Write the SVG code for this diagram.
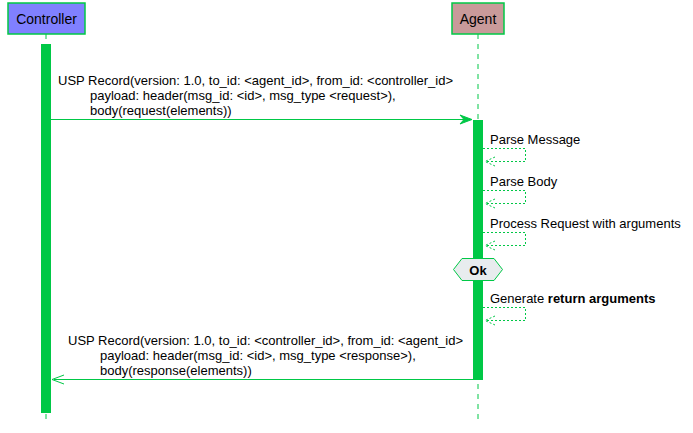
<svg xmlns="http://www.w3.org/2000/svg" width="693" height="433" viewBox="0 0 693 433">
<style>
text{font-family:"Liberation Sans",Arial,sans-serif;fill:#000}
.msg{font-size:13px}
.hdr{font-size:14px}
.life{stroke:#00C846;stroke-width:1;stroke-dasharray:5,5;fill:none}
.act{fill:#00C846;stroke:none}
.solid{stroke:#00C846;stroke-width:1;fill:none}
.dash{stroke:#00C846;stroke-width:1;stroke-dasharray:2,2;fill:none}
.head{fill:#00C846;stroke:#00C846;stroke-width:1}
</style>
<rect width="693" height="433" fill="#fff"/>
<g id="lifelines">
<line class="life" x1="46" y1="34" x2="46" y2="422"/>
<line class="life" x1="478" y1="34" x2="478" y2="422"/>
</g>
<g id="controller">
<rect x="8" y="3" width="77" height="31" fill="#8080FF" stroke="#00C846" stroke-width="1.5"/>
<text class="hdr" x="46.5" y="23.5" text-anchor="middle">Controller</text>
<rect class="act" x="41" y="44" width="10" height="369"/>
</g>
<g id="agent">
<rect x="452" y="3" width="52" height="31" fill="#C99A9A" stroke="#00C846" stroke-width="1.5"/>
<text class="hdr" x="478" y="23.5" text-anchor="middle">Agent</text>
<rect class="act" x="473" y="120" width="10" height="260"/>
</g>
<g id="ok">
<polygon points="453.5,269.5 462,258.5 494,258.5 502.5,269.5 494,280.5 462,280.5" fill="#E8ECEE" stroke="#00C846" stroke-width="1"/>
<text x="478" y="274.5" text-anchor="middle" font-size="13" font-weight="bold">Ok</text>
</g>
<g id="connectors">
<line class="solid" x1="51" y1="119.5" x2="470" y2="119.5"/>
<polygon class="head" points="472,119.5 460,115 464,119.5 460,124"/>
<text class="msg" x="58" y="85">USP Record(version: 1.0, to_id: &lt;agent_id&gt;, from_id: &lt;controller_id&gt;</text>
<text class="msg" x="90" y="100">payload: header(msg_id: &lt;id&gt;, msg_type &lt;request&gt;),</text>
<text class="msg" x="90" y="115">body(request(elements))</text>

<polyline class="dash" points="483,148.5 525.5,148.5 525.5,161.5 485,161.5"/>
<polyline class="dash" points="495,157 485,161.5 495,166"/>
<text class="msg" x="490" y="144">Parse Message</text>

<polyline class="dash" points="483,190.5 525.5,190.5 525.5,203.5 485,203.5"/>
<polyline class="dash" points="495,199 485,203.5 495,208"/>
<text class="msg" x="490" y="186">Parse Body</text>

<polyline class="dash" points="483,232.5 525.5,232.5 525.5,245.5 485,245.5"/>
<polyline class="dash" points="495,241 485,245.5 495,250"/>
<text class="msg" x="490" y="228">Process Request with arguments</text>

<polyline class="dash" points="483,307.5 525.5,307.5 525.5,320.5 485,320.5"/>
<polyline class="dash" points="495,316 485,320.5 495,325"/>
<text class="msg" x="490" y="303">Generate <tspan font-weight="bold">return arguments</tspan></text>

<line class="solid" x1="473" y1="379.5" x2="54" y2="379.5"/>
<polyline class="solid" points="64,375 52,379.5 64,384"/>
<text class="msg" x="68" y="345">USP Record(version: 1.0, to_id: &lt;controller_id&gt;, from_id: &lt;agent_id&gt;</text>
<text class="msg" x="100" y="360">payload: header(msg_id: &lt;id&gt;, msg_type &lt;response&gt;),</text>
<text class="msg" x="100" y="375">body(response(elements))</text>
</g>
</svg>
